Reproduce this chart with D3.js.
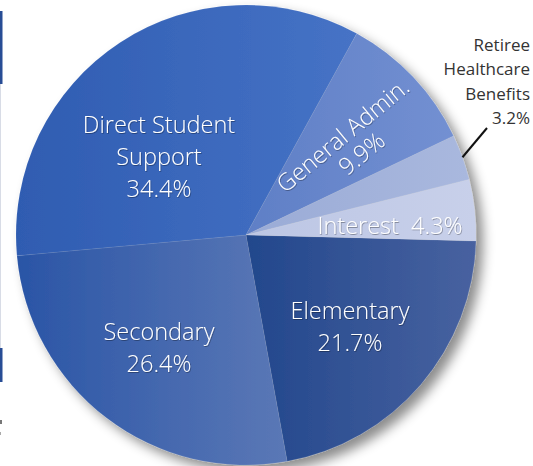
<!DOCTYPE html>
<html><head><meta charset="utf-8">
<script src="https://cdn.jsdelivr.net/npm/d3@7/dist/d3.min.js"></script>
<style>
html,body{margin:0;padding:0;background:#fff;}
svg{display:block;}
</style></head>
<body>
<svg id="c" width="533" height="466"></svg>
<script>
const categories = ["Elementary","Secondary","Direct Student Support","General Admin.","Retiree Healthcare Benefits","Interest"];
const values = [21.7, 26.4, 34.4, 9.9, 3.2, 4.3];
const colorsLeft  = ["#22478c","#2a55a6","#2f5cb1","#5f7fc6","#9aabd6","#bcc6e4"];
const colorsRight = ["#4862a0","#5b78b6","#4673c6","#7390d2","#a9b8de","#c8d0ea"];

const svg = d3.select("#c");
const cx = 246, cy = 235, R = 230;
const startDeg = 91.5;

const defs = svg.append("defs");
const sh = defs.append("filter").attr("id","shadow").attr("x","-20%").attr("y","-20%").attr("width","140%").attr("height","140%");
sh.append("feDropShadow").attr("dx",7).attr("dy",7).attr("stdDeviation",6).attr("flood-color","#000").attr("flood-opacity",0.45);
const ts = defs.append("filter").attr("id","tshadow").attr("x","-10%").attr("y","-30%").attr("width","120%").attr("height","160%");
ts.append("feDropShadow").attr("dx",0.7).attr("dy",0.9).attr("stdDeviation",0.7).attr("flood-color","#000").attr("flood-opacity",0.35);

categories.forEach((c,i)=>{
  const g = defs.append("linearGradient").attr("id","g"+i).attr("x1","0").attr("x2","1").attr("y1","0").attr("y2","0");
  g.append("stop").attr("offset","0%").attr("stop-color",colorsLeft[i]);
  g.append("stop").attr("offset","100%").attr("stop-color",colorsRight[i]);
});

// left edge decorations
svg.append("rect").attr("x",0).attr("y",11).attr("width",2.5).attr("height",73).attr("fill","#284d95");
svg.append("rect").attr("x",0).attr("y",84).attr("width",1).attr("height",264).attr("fill","#d8dce6");
svg.append("rect").attr("x",0).attr("y",348).attr("width",2.5).attr("height",34).attr("fill","#284d95");
svg.append("rect").attr("x",0).attr("y",420).attr("width",2).attr("height",4).attr("fill","#777");
svg.append("rect").attr("x",0).attr("y",432).attr("width",1).attr("height",3).attr("fill","#aaa");

const pie = d3.pie().sort(null).value(d=>d)
  .startAngle(startDeg*Math.PI/180).endAngle((startDeg+360)*Math.PI/180);
const arcs = pie(values);
const arc = d3.arc().innerRadius(0).outerRadius(R);

const pg = svg.append("g").attr("transform",`translate(${cx},${cy})`).attr("filter","url(#shadow)");
pg.selectAll("path").data(arcs).join("path")
  .attr("d",arc)
  .attr("fill",(d,i)=>`url(#g${i})`)
  .attr("stroke","rgba(255,255,255,0.12)").attr("stroke-width",0.6);

const font = "'Open Sans', sans-serif";
const lab = svg.append("g").attr("font-family",font).attr("font-weight",300).attr("fill","#fff")
  .attr("font-size",23.5).attr("filter","url(#tshadow)").attr("text-anchor","middle");

function pct(i){ return values[i].toFixed(1)+"%"; }
function multi(x,y,lines,lh){
  const t = lab.append("text").attr("x",x).attr("y",y);
  lines.forEach((l,k)=>t.append("tspan").attr("x",x).attr("dy",k?lh:0).text(l));
  return t;
}
multi(159,133,["Direct Student","Support",pct(2)],32);
multi(159,340,[categories[1],pct(1)],32);
multi(350,319,[categories[0],pct(0)],32);
lab.append("text").attr("x",390).attr("y",234).style("white-space","pre").text(categories[5]+"  "+pct(5));
const ga = lab.append("g").attr("transform","translate(350,144) rotate(-39.5)");
ga.append("text").attr("x",0).attr("y",-3).text(categories[3]);
ga.append("text").attr("x",3).attr("y",23).text(pct(3));

const rl = svg.append("text").attr("font-family",font).attr("font-weight",400).attr("font-size",17)
  .attr("fill","#333").attr("text-anchor","end");
["Retiree","Healthcare","Benefits",pct(4)].forEach((l,k)=>rl.append("tspan").attr("x",530).attr("y",51+k*24.3).text(l));
const rMid = (arcs[4].startAngle+arcs[4].endAngle)/2;
const p0 = [cx+R*Math.sin(rMid), cy-R*Math.cos(rMid)];
svg.append("line").attr("x1",p0[0]).attr("y1",p0[1]).attr("x2",487).attr("y2",128)
  .attr("stroke","#111").attr("stroke-width",2);
</script>
</body></html>
